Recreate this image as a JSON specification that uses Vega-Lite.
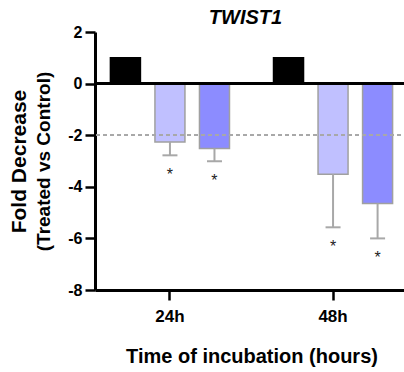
{
  "$schema": "https://vega.github.io/schema/vega-lite/v6.json",
  "width": 313,
  "height": 258,
  "autosize": "none",
  "padding": {"left": 95, "top": 32, "right": 0, "bottom": 82},
  "title": {
    "text": "TWIST1",
    "font": "Liberation Sans",
    "fontSize": 20,
    "fontStyle": "italic",
    "fontWeight": "bold",
    "color": "black",
    "anchor": "middle",
    "dx": -6,
    "offset": -4
  },
  "config": {
    "view": {"stroke": null},
    "axis": {
      "labelFont": "Liberation Sans",
      "titleFont": "Liberation Sans",
      "labelFontWeight": "bold",
      "titleFontWeight": "bold",
      "labelColor": "black",
      "titleColor": "black",
      "domainColor": "black",
      "tickColor": "black",
      "grid": false
    }
  },
  "data": {
    "values": [
      {"time": "24h", "group": "Control", "value": 1, "err": null, "sig": ""},
      {"time": "24h", "group": "Treatment A", "value": -2.26, "err": -2.78, "sig": "*"},
      {"time": "24h", "group": "Treatment B", "value": -2.52, "err": -3.01, "sig": "*"},
      {"time": "48h", "group": "Control", "value": 1, "err": null, "sig": ""},
      {"time": "48h", "group": "Treatment A", "value": -3.51, "err": -5.57, "sig": "*"},
      {"time": "48h", "group": "Treatment B", "value": -4.65, "err": -6.0, "sig": "*"}
    ]
  },
  "layer": [
    {
      "layer": [
        {
          "mark": {"type": "bar", "strokeWidth": 1.5},
          "encoding": {
            "x": {
              "field": "time",
              "type": "nominal",
              "scale": {"domain": ["24h", "48h"], "paddingInner": 0.181, "paddingOuter": 0.05},
              "axis": {
                "title": "Time of incubation (hours)",
                "labelAngle": 0,
                "labelFontSize": 17,
                "labelPadding": 8,
                "tickSize": 10,
                "tickWidth": 2.5,
                "domainWidth": 3,
                "titleFontSize": 20,
                "titlePadding": 22
              }
            },
            "xOffset": {
              "field": "group",
              "type": "nominal",
              "scale": {"domain": ["Control", "Treatment A", "Treatment B"], "paddingInner": 0.326, "paddingOuter": 0.163}
            },
            "y": {
              "field": "value",
              "type": "quantitative",
              "scale": {"domain": [-8, 2], "nice": false, "zero": false},
              "axis": {
                "title": "(Treated vs Control)",
                "values": [-8, -6, -4, -2, 0, 2],
                "labelExpr": "'' + datum.value",
                "labelFontSize": 16,
                "labelPadding": 3,
                "tickSize": 10,
                "tickWidth": 2.5,
                "domainWidth": 3,
                "titleFontSize": 19,
                "titlePadding": 14
              }
            },
            "fill": {
              "field": "group",
              "type": "nominal",
              "scale": {"domain": ["Control", "Treatment A", "Treatment B"], "range": ["#000000", "#C0C0FF", "#8C8CFF"]},
              "legend": null
            },
            "stroke": {
              "field": "group",
              "type": "nominal",
              "scale": {"domain": ["Control", "Treatment A", "Treatment B"], "range": ["#000000", "#A0A0A0", "#A0A0A0"]},
              "legend": null
            }
          }
        },
        {
          "transform": [{"filter": "datum.err != null"}],
          "mark": {"type": "rule", "color": "#A8A8A8", "strokeWidth": 2},
          "encoding": {
            "x": {"field": "time", "type": "nominal"},
            "xOffset": {"field": "group", "type": "nominal"},
            "y": {"field": "value", "type": "quantitative"},
            "y2": {"field": "err"}
          }
        },
        {
          "transform": [{"filter": "datum.err != null"}],
          "mark": {"type": "tick", "color": "#A8A8A8", "size": 15, "thickness": 2, "orient": "horizontal", "opacity": 1},
          "encoding": {
            "x": {"field": "time", "type": "nominal"},
            "xOffset": {"field": "group", "type": "nominal"},
            "y": {"field": "err", "type": "quantitative"}
          }
        },
        {
          "transform": [{"filter": "datum.err != null"}],
          "mark": {"type": "text", "font": "Liberation Sans", "fontSize": 16, "color": "#222222", "baseline": "alphabetic", "dy": 25},
          "encoding": {
            "x": {"field": "time", "type": "nominal"},
            "xOffset": {"field": "group", "type": "nominal"},
            "y": {"field": "err", "type": "quantitative"},
            "text": {"field": "sig"}
          }
        },
        {
          "mark": {"type": "rule", "color": "#A8A8A8", "strokeWidth": 1.5, "strokeDash": [4, 3]},
          "encoding": {
            "y": {"datum": -2, "type": "quantitative"}
          }
        }
      ]
    },
    {
      "mark": {"type": "rule", "color": "black", "strokeWidth": 3},
      "encoding": {
        "y": {
          "datum": 0,
          "type": "quantitative",
          "scale": {"domain": [-8, 2], "nice": false, "zero": false},
          "axis": {
            "orient": "left",
            "title": "Fold Decrease",
            "labels": false,
            "ticks": false,
            "domain": false,
            "titleFontSize": 21,
            "titlePadding": 66
          }
        }
      }
    }
  ],
  "resolve": {"scale": {"y": "independent"}}
}
